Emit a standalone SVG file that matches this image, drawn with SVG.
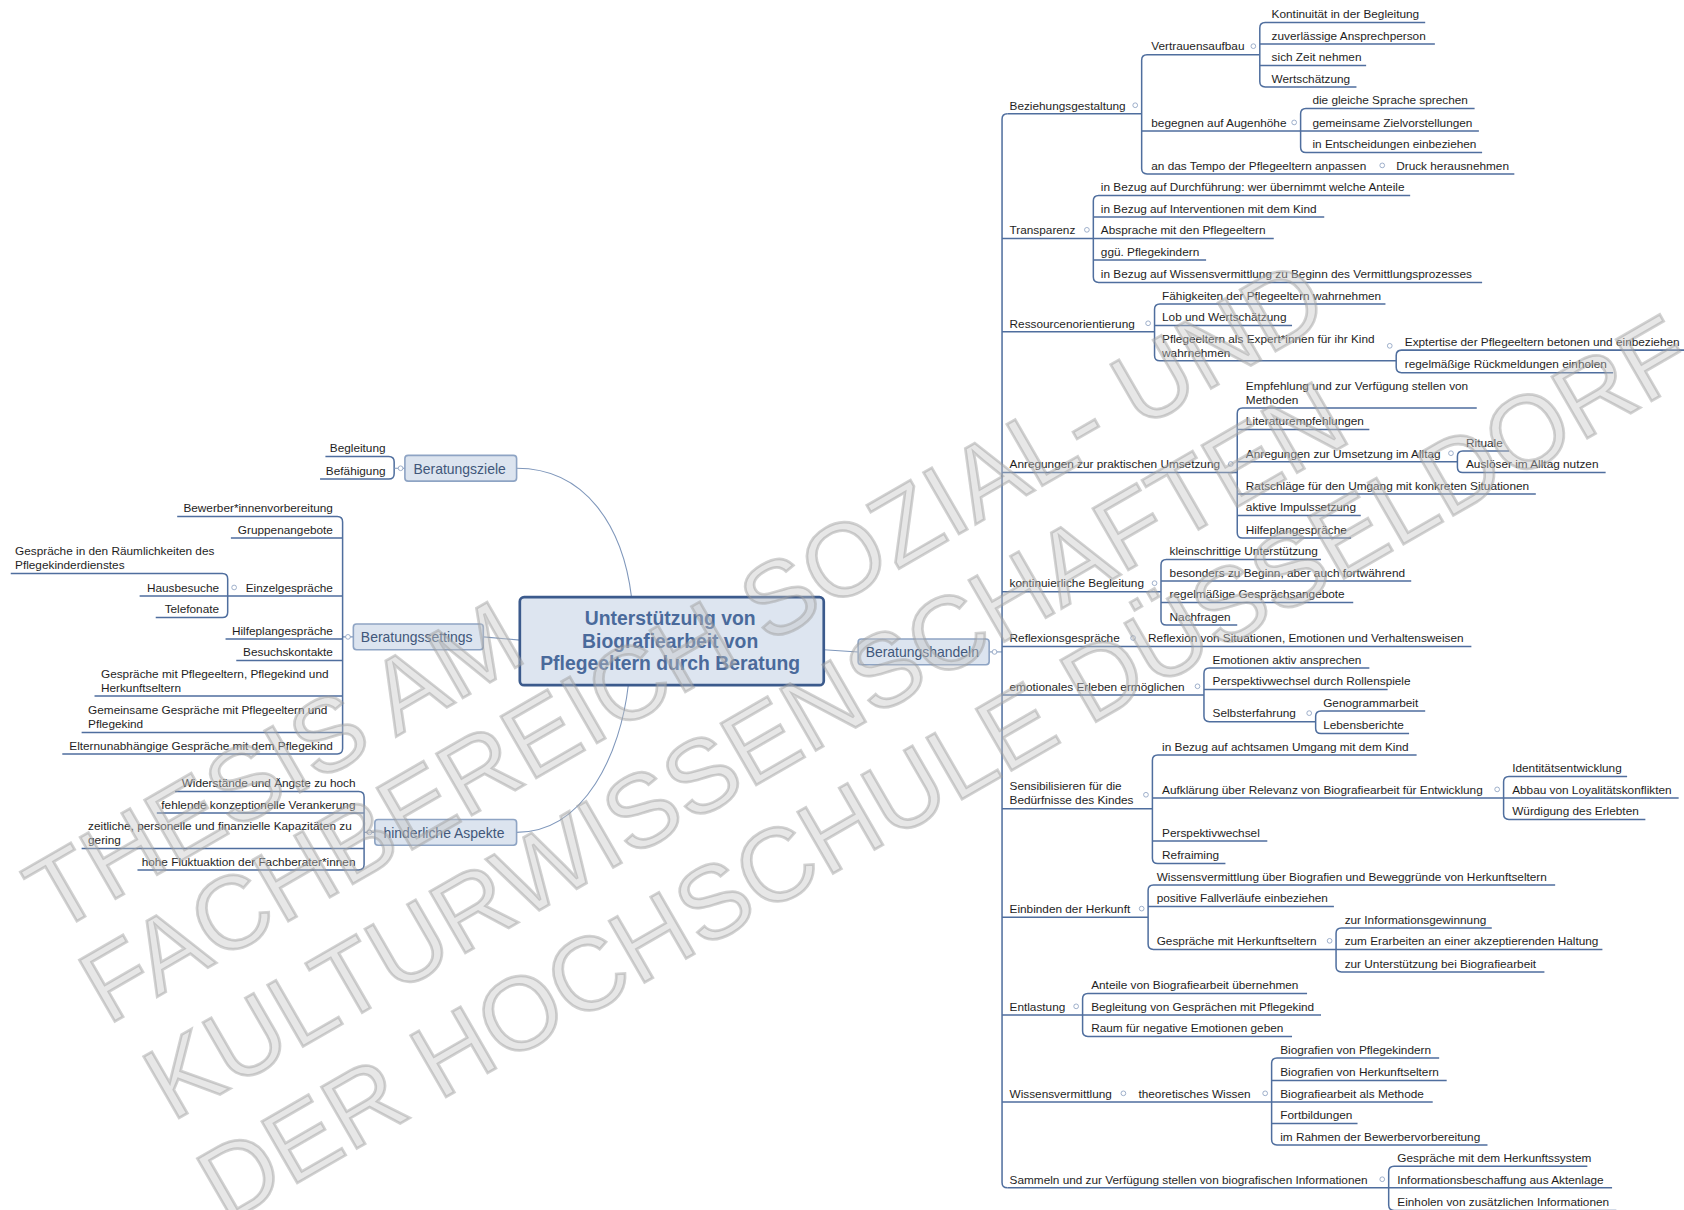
<svg xmlns="http://www.w3.org/2000/svg" width="1684" height="1210" viewBox="0 0 1684 1210">
<style>
.t{font-family:"Liberation Sans",Arial,sans-serif;font-size:11px;fill:#1e1e1e}
.r{text-anchor:end}
.ul{stroke:#4f6e9e;stroke-width:1.4;fill:none}
.cn{stroke:#7f97bb;stroke-width:1;fill:none}
.c{fill:#fff;stroke:#8fa3c2;stroke-width:0.8}
.box{fill:#dce4ef;stroke:#8ea4c4;stroke-width:1.5}
.bt{font-family:"Liberation Sans",Arial,sans-serif;font-size:13px;fill:#41577a}
.ct{font-family:"Liberation Sans",Arial,sans-serif;font-size:18px;font-weight:bold;fill:#4a6a9b;text-anchor:middle}
.wm{font-family:"Liberation Sans",Arial,sans-serif;font-size:96px;fill:#c2c2c2;fill-opacity:0.4;stroke:#9c9c9c;stroke-opacity:0.45;stroke-width:2.5;stroke-linejoin:miter}
</style>
<rect width="1684" height="1210" fill="#ffffff"/>
<g transform="scale(1.074)">
<g id="connectors">
<path class="cn" d="M481,436 C545,436 580,490 588,556"/>
<path class="cn" d="M481,775 C545,775 578,700 585,638"/>
<path class="cn" d="M450,593 L484,596"/>
<path class="cn" d="M767,605 L799,607"/>
<path class="cn" d="M921,607 H933"/>
<path class="ul" d="M938,106 Q933,106 933,111 V1101 Q933,1106 938,1106"/>
<path class="ul" d="M938,106H1063 M933,222H1018 M933,309H1075 M933,440H1152 M933,551H1081 M933,602H1370 M933,647H1121 M933,753H1073 M933,854H1069 M933,945H1008 M933,1026H1184 M938,1106H1293"/>
<path class="ul" d="M1068,51Q1063,51 1063,56V157Q1063,162 1068,162 M1068,51H1173 M1063,122H1211 M1068,162H1410"/>
<path class="ul" d="M1178,21Q1173,21 1173,26V76Q1173,81 1178,81 M1178,21H1327 M1173,41H1336 M1173,61H1272 M1178,81H1263"/>
<path class="ul" d="M1216,101Q1211,101 1211,106V137Q1211,142 1216,142 M1216,101H1373 M1211,122H1377 M1216,142H1380"/>
<path class="ul" d="M1023,182Q1018,182 1018,187V258Q1018,263 1023,263 M1023,182H1313 M1018,202H1233 M1018,222H1186 M1018,242H1123 M1023,263H1380"/>
<path class="ul" d="M1080,283Q1075,283 1075,288V331Q1075,336 1080,336 M1080,283H1290 M1075,303H1203 M1080,336H1300"/>
<path class="ul" d="M1305,326Q1300,326 1300,331V342Q1300,347 1305,347 M1305,326H1568 M1305,347H1502"/>
<path class="ul" d="M1157,380Q1152,380 1152,385V496Q1152,501 1157,501 M1157,380H1375 M1152,400H1275 M1152,430H1357 M1152,460H1430 M1152,480H1267 M1157,501H1258"/>
<path class="ul" d="M1362,420Q1357,420 1357,425V435Q1357,440 1362,440 M1362,420H1405 M1362,440H1495"/>
<path class="ul" d="M1086,521Q1081,521 1081,526V577Q1081,582 1086,582 M1086,521H1230 M1081,541H1314 M1081,561H1260 M1086,582H1152"/>
<path class="ul" d="M1126,622Q1121,622 1121,627V667Q1121,672 1126,672 M1126,622H1275 M1121,642H1292 M1126,672H1225"/>
<path class="ul" d="M1230,662Q1225,662 1225,667V678Q1225,683 1230,683 M1230,662H1327 M1230,683H1312"/>
<path class="ul" d="M1078,703Q1073,703 1073,708V799Q1073,804 1078,804 M1078,703H1319 M1073,743H1400 M1073,783H1180 M1078,804H1141"/>
<path class="ul" d="M1405,723Q1400,723 1400,728V758Q1400,763 1405,763 M1405,723H1515 M1400,743H1563 M1405,763H1532"/>
<path class="ul" d="M1074,824Q1069,824 1069,829V879Q1069,884 1074,884 M1074,824H1448 M1069,844H1242 M1074,884H1244"/>
<path class="ul" d="M1249,864Q1244,864 1244,869V900Q1244,905 1249,905 M1249,864H1389 M1244,884H1492 M1249,905H1438"/>
<path class="ul" d="M1013,925Q1008,925 1008,930V960Q1008,965 1013,965 M1013,925H1217 M1008,945H1230 M1013,965H1203"/>
<path class="ul" d="M1189,985Q1184,985 1184,990V1061Q1184,1066 1189,1066 M1189,985H1340 M1184,1006H1347 M1184,1026H1334 M1184,1046H1264 M1189,1066H1385"/>
<path class="ul" d="M1298,1086Q1293,1086 1293,1091V1122Q1293,1127 1298,1127 M1298,1086H1478 M1293,1106H1501 M1298,1127H1505"/>
<path class="ul" d="M362,425Q367,425 367,430V441Q367,446 362,446 M362,425H303 M362,446H298"/>
<path class="cn" d="M367,436H377 M319,593H329 M339,775H349"/>
<path class="ul" d="M314,481Q319,481 319,486V697Q319,702 314,702 M314,481H165 M319,501H215 M319,555H212 M319,595H210 M319,615H220 M319,648H88 M319,682H76 M314,702H58"/>
<path class="ul" d="M207,534Q212,534 212,539V570Q212,575 207,575 M207,534H10 M212,555H130 M207,575H145"/>
<path class="ul" d="M334,737Q339,737 339,742V805Q339,810 334,810 M334,737H163 M339,757H146 M339,790H76 M334,810H128"/>
<g>
<circle class="c" cx="926" cy="607" r="2.2"/><circle class="c" cx="1057" cy="98" r="2.2"/><circle class="c" cx="1167" cy="43" r="2.2"/><circle class="c" cx="1205" cy="114" r="2.2"/><circle class="c" cx="1287" cy="154" r="2.2"/><circle class="c" cx="1012" cy="214" r="2.2"/><circle class="c" cx="1069" cy="301" r="2.2"/><circle class="c" cx="1294" cy="322" r="2.2"/><circle class="c" cx="1146" cy="432" r="2.2"/><circle class="c" cx="1351" cy="422" r="2.2"/><circle class="c" cx="1075" cy="543" r="2.2"/><circle class="c" cx="1055" cy="594" r="2.2"/><circle class="c" cx="1115" cy="639" r="2.2"/><circle class="c" cx="1219" cy="664" r="2.2"/><circle class="c" cx="1067" cy="740" r="2.2"/><circle class="c" cx="1394" cy="735" r="2.2"/><circle class="c" cx="1063" cy="846" r="2.2"/><circle class="c" cx="1238" cy="876" r="2.2"/><circle class="c" cx="1002" cy="937" r="2.2"/><circle class="c" cx="1046" cy="1018" r="2.2"/><circle class="c" cx="1178" cy="1018" r="2.2"/><circle class="c" cx="1287" cy="1098" r="2.2"/>
<circle class="c" cx="373" cy="436" r="2.2"/><circle class="c" cx="324" cy="593" r="2.2"/><circle class="c" cx="218" cy="547" r="2.2"/><circle class="c" cx="344" cy="775" r="2.2"/>
</g>
</g>
<g id="center"><rect x="484" y="556" width="283" height="82" rx="4" fill="#dde5f0" stroke="#3b5a8c" stroke-width="2.5"/><text class="ct" x="624" y="582">Unterstützung von</text><text class="ct" x="624" y="603">Biografiearbeit von</text><text class="ct" x="624" y="624">Pflegeeltern durch Beratung</text></g>
<g id="beratungsziele"><rect class="box" x="377" y="424" width="104" height="24" rx="3"/><text class="bt" x="385" y="441">Beratungsziele</text></g>
<g id="beratungssettings"><rect class="box" x="329" y="581" width="121" height="24" rx="3"/><text class="bt" x="336" y="598">Beratungssettings</text></g>
<g id="beratungshandeln"><rect class="box" x="799" y="595" width="122" height="24" rx="3"/><text class="bt" x="806" y="612">Beratungshandeln</text></g>
<g id="hinderliche"><rect class="box" x="349" y="763" width="132" height="24" rx="3"/><text class="bt" x="357" y="780">hinderliche Aspekte</text></g>
<g id="left-nodes">
<g id="l1"><text class="t r" x="359" y="421">Begleitung</text></g>
<g id="l2"><text class="t r" x="359" y="442">Befähigung</text></g>
<g id="l3"><text class="t r" x="310" y="477">Bewerber*innenvorbereitung</text></g>
<g id="l4"><text class="t r" x="310" y="497">Gruppenangebote</text></g>
<g id="l5"><text class="t r" x="310" y="551">Einzelgespräche</text></g>
<g id="l6"><text class="t" x="14" y="517">Gespräche in den Räumlichkeiten des</text><text class="t" x="14" y="530">Pflegekinderdienstes</text></g>
<g id="l7"><text class="t r" x="204" y="551">Hausbesuche</text></g>
<g id="l8"><text class="t r" x="204" y="571">Telefonate</text></g>
<g id="l9"><text class="t r" x="310" y="591">Hilfeplangespräche</text></g>
<g id="l10"><text class="t r" x="310" y="611">Besuchskontakte</text></g>
<g id="l11"><text class="t" x="94" y="631">Gespräche mit Pflegeeltern, Pflegekind und</text><text class="t" x="94" y="644">Herkunftseltern</text></g>
<g id="l12"><text class="t" x="82" y="665">Gemeinsame Gespräche mit Pflegeeltern und</text><text class="t" x="82" y="678">Pflegekind</text></g>
<g id="l13"><text class="t r" x="310" y="698">Elternunabhängige Gespräche mit dem Pflegekind</text></g>
<g id="l14"><text class="t r" x="331" y="733">Widerstände und Ängste zu hoch</text></g>
<g id="l15"><text class="t r" x="331" y="753">fehlende konzeptionelle Verankerung</text></g>
<g id="l16"><text class="t" x="82" y="773">zeitliche, personelle und finanzielle Kapazitäten zu</text><text class="t" x="82" y="786">gering</text></g>
<g id="l17"><text class="t r" x="331" y="806">hohe Fluktuaktion der Fachberater*innen</text></g>
</g>
<g id="right-nodes">
<g id="r1"><text class="t" x="940" y="102">Beziehungsgestaltung</text></g>
<g id="r1a"><text class="t" x="1072" y="47">Vertrauensaufbau</text></g>
<g id="r1a1"><text class="t" x="1184" y="17">Kontinuität in der Begleitung</text></g>
<g id="r1a2"><text class="t" x="1184" y="37">zuverlässige Ansprechperson</text></g>
<g id="r1a3"><text class="t" x="1184" y="57">sich Zeit nehmen</text></g>
<g id="r1a4"><text class="t" x="1184" y="77">Wertschätzung</text></g>
<g id="r1b"><text class="t" x="1072" y="118">begegnen auf Augenhöhe</text></g>
<g id="r1b1"><text class="t" x="1222" y="97">die gleiche Sprache sprechen</text></g>
<g id="r1b2"><text class="t" x="1222" y="118">gemeinsame Zielvorstellungen</text></g>
<g id="r1b3"><text class="t" x="1222" y="138">in Entscheidungen einbeziehen</text></g>
<g id="r1c"><text class="t" x="1072" y="158">an das Tempo der Pflegeeltern anpassen</text></g>
<g id="r1c1"><text class="t" x="1300" y="158">Druck herausnehmen</text></g>
<g id="r2"><text class="t" x="940" y="218">Transparenz</text></g>
<g id="r2a"><text class="t" x="1025" y="178">in Bezug auf Durchführung: wer übernimmt welche Anteile</text></g>
<g id="r2b"><text class="t" x="1025" y="198">in Bezug auf Interventionen mit dem Kind</text></g>
<g id="r2c"><text class="t" x="1025" y="218">Absprache mit den Pflegeeltern</text></g>
<g id="r2d"><text class="t" x="1025" y="238">ggü. Pflegekindern</text></g>
<g id="r2e"><text class="t" x="1025" y="259">in Bezug auf Wissensvermittlung zu Beginn des Vermittlungsprozesses</text></g>
<g id="r3"><text class="t" x="940" y="305">Ressourcenorientierung</text></g>
<g id="r3a"><text class="t" x="1082" y="279">Fähigkeiten der Pflegeeltern wahrnehmen</text></g>
<g id="r3b"><text class="t" x="1082" y="299">Lob und Wertschätzung</text></g>
<g id="r3c"><text class="t" x="1082" y="319">Pflegeeltern als Expert*innen für ihr Kind</text><text class="t" x="1082" y="332">wahrnehmen</text></g>
<g id="r3c1"><text class="t" x="1308" y="322">Exptertise der Pflegeeltern betonen und einbeziehen</text></g>
<g id="r3c2"><text class="t" x="1308" y="343">regelmäßige Rückmeldungen einholen</text></g>
<g id="r4"><text class="t" x="940" y="436">Anregungen zur praktischen Umsetzung</text></g>
<g id="r4a"><text class="t" x="1160" y="363">Empfehlung und zur Verfügung stellen von</text><text class="t" x="1160" y="376">Methoden</text></g>
<g id="r4b"><text class="t" x="1160" y="396">Literaturempfehlungen</text></g>
<g id="r4c"><text class="t" x="1160" y="426">Anregungen zur Umsetzung im Alltag</text></g>
<g id="r4c1"><text class="t" x="1365" y="416">Rituale</text></g>
<g id="r4c2"><text class="t" x="1365" y="436">Auslöser im Alltag nutzen</text></g>
<g id="r4d"><text class="t" x="1160" y="456">Ratschläge für den Umgang mit konkreten Situationen</text></g>
<g id="r4e"><text class="t" x="1160" y="476">aktive Impulssetzung</text></g>
<g id="r4f"><text class="t" x="1160" y="497">Hilfeplangespräche</text></g>
<g id="r5"><text class="t" x="940" y="547">kontinuierliche Begleitung</text></g>
<g id="r5a"><text class="t" x="1089" y="517">kleinschrittige Unterstützung</text></g>
<g id="r5b"><text class="t" x="1089" y="537">besonders zu Beginn, aber auch fortwährend</text></g>
<g id="r5c"><text class="t" x="1089" y="557">regelmäßige Gesprächsangebote</text></g>
<g id="r5d"><text class="t" x="1089" y="578">Nachfragen</text></g>
<g id="r6"><text class="t" x="940" y="598">Reflexionsgespräche</text></g>
<g id="r6a"><text class="t" x="1069" y="598">Reflexion von Situationen, Emotionen und Verhaltensweisen</text></g>
<g id="r7"><text class="t" x="940" y="643">emotionales Erleben ermöglichen</text></g>
<g id="r7a"><text class="t" x="1129" y="618">Emotionen aktiv ansprechen</text></g>
<g id="r7b"><text class="t" x="1129" y="638">Perspektivwechsel durch Rollenspiele</text></g>
<g id="r7c"><text class="t" x="1129" y="668">Selbsterfahrung</text></g>
<g id="r7c1"><text class="t" x="1232" y="658">Genogrammarbeit</text></g>
<g id="r7c2"><text class="t" x="1232" y="679">Lebensberichte</text></g>
<g id="r8"><text class="t" x="940" y="736">Sensibilisieren für die</text><text class="t" x="940" y="749">Bedürfnisse des Kindes</text></g>
<g id="r8a"><text class="t" x="1082" y="699">in Bezug auf achtsamen Umgang mit dem Kind</text></g>
<g id="r8b"><text class="t" x="1082" y="739">Aufklärung über Relevanz von Biografiearbeit für Entwicklung</text></g>
<g id="r8b1"><text class="t" x="1408" y="719">Identitätsentwicklung</text></g>
<g id="r8b2"><text class="t" x="1408" y="739">Abbau von Loyalitätskonflikten</text></g>
<g id="r8b3"><text class="t" x="1408" y="759">Würdigung des Erlebten</text></g>
<g id="r8c"><text class="t" x="1082" y="779">Perspektivwechsel</text></g>
<g id="r8d"><text class="t" x="1082" y="800">Refraiming</text></g>
<g id="r9"><text class="t" x="940" y="850">Einbinden der Herkunft</text></g>
<g id="r9a"><text class="t" x="1077" y="820">Wissensvermittlung über Biografien und Beweggründe von Herkunftseltern</text></g>
<g id="r9b"><text class="t" x="1077" y="840">positive Fallverläufe einbeziehen</text></g>
<g id="r9c"><text class="t" x="1077" y="880">Gespräche mit Herkunftseltern</text></g>
<g id="r9c1"><text class="t" x="1252" y="860">zur Informationsgewinnung</text></g>
<g id="r9c2"><text class="t" x="1252" y="880">zum Erarbeiten an einer akzeptierenden Haltung</text></g>
<g id="r9c3"><text class="t" x="1252" y="901">zur Unterstützung bei Biografiearbeit</text></g>
<g id="r10"><text class="t" x="940" y="941">Entlastung</text></g>
<g id="r10a"><text class="t" x="1016" y="921">Anteile von Biografiearbeit übernehmen</text></g>
<g id="r10b"><text class="t" x="1016" y="941">Begleitung von Gesprächen mit Pflegekind</text></g>
<g id="r10c"><text class="t" x="1016" y="961">Raum für negative Emotionen geben</text></g>
<g id="r11"><text class="t" x="940" y="1022">Wissensvermittlung</text></g>
<g id="r11a"><text class="t" x="1060" y="1022">theoretisches Wissen</text></g>
<g id="r11a1"><text class="t" x="1192" y="981">Biografien von Pflegekindern</text></g>
<g id="r11a2"><text class="t" x="1192" y="1002">Biografien von Herkunftseltern</text></g>
<g id="r11a3"><text class="t" x="1192" y="1022">Biografiearbeit als Methode</text></g>
<g id="r11a4"><text class="t" x="1192" y="1042">Fortbildungen</text></g>
<g id="r11a5"><text class="t" x="1192" y="1062">im Rahmen der Bewerbervorbereitung</text></g>
<g id="r12"><text class="t" x="940" y="1102">Sammeln und zur Verfügung stellen von biografischen Informationen</text></g>
<g id="r12a"><text class="t" x="1301" y="1082">Gespräche mit dem Herkunftssystem</text></g>
<g id="r12b"><text class="t" x="1301" y="1102">Informationsbeschaffung aus Aktenlage</text></g>
<g id="r12c"><text class="t" x="1301" y="1123">Einholen von zusätzlichen Informationen</text></g>
</g>
<g id="watermark">
<text class="wm" x="50" y="870" transform="rotate(-30 50 870)">THESIS AM</text>
<text class="wm" x="100" y="955" transform="rotate(-30 100 955)">FACHBEREICH SOZIAL- UND</text>
<text class="wm" x="160" y="1045" transform="rotate(-30 160 1045)">KULTURWISSENSCHAFTEN</text>
<text class="wm" x="210" y="1140" transform="rotate(-30 210 1140)">DER HOCHSCHULE DÜSSELDORF</text>
</g>
</g>
</svg>
